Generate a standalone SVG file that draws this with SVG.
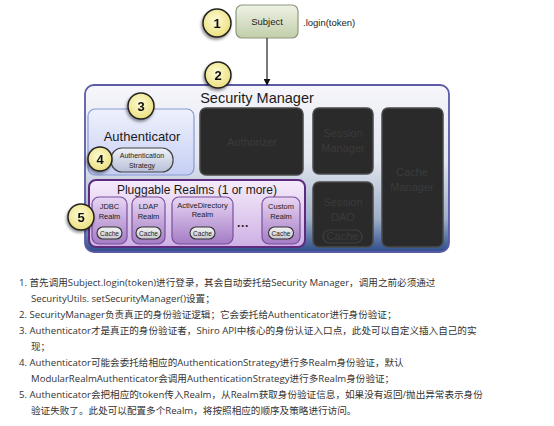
<svg xmlns="http://www.w3.org/2000/svg" width="554" height="426" viewBox="0 0 554 426">
<defs>
  <linearGradient id="gSM" x1="0" y1="0" x2="0" y2="1">
    <stop offset="0" stop-color="#f6f6fb"/>
    <stop offset="0.45" stop-color="#e2e6ef"/>
    <stop offset="0.8" stop-color="#9fb0c8"/>
    <stop offset="1" stop-color="#2d4d8a"/>
  </linearGradient>
  <linearGradient id="gSubj" x1="0" y1="0" x2="0" y2="1">
    <stop offset="0" stop-color="#eef2e4"/>
    <stop offset="1" stop-color="#c2ceaa"/>
  </linearGradient>
  <linearGradient id="gAuth" x1="0" y1="0" x2="0" y2="1">
    <stop offset="0" stop-color="#eef0fc"/>
    <stop offset="1" stop-color="#c6cff4"/>
  </linearGradient>
  <linearGradient id="gStrat" x1="0" y1="0" x2="0" y2="1">
    <stop offset="0" stop-color="#f0f2f8"/>
    <stop offset="1" stop-color="#b8c0d8"/>
  </linearGradient>
  <linearGradient id="gPR" x1="0" y1="0" x2="0" y2="1">
    <stop offset="0" stop-color="#f6ecfb"/>
    <stop offset="1" stop-color="#cdb0e4"/>
  </linearGradient>
  <linearGradient id="gRealm" x1="0" y1="0" x2="0" y2="1">
    <stop offset="0" stop-color="#e8d6f4"/>
    <stop offset="1" stop-color="#a47cc4"/>
  </linearGradient>
  <linearGradient id="gCache" x1="0" y1="0" x2="0" y2="1">
    <stop offset="0" stop-color="#f4f4f4"/>
    <stop offset="1" stop-color="#c8c8d0"/>
  </linearGradient>
  <radialGradient id="gCirc" cx="0.45" cy="0.4" r="0.6">
    <stop offset="0" stop-color="#fdfbd6"/>
    <stop offset="1" stop-color="#ece07e"/>
  </radialGradient>
  <filter id="shadow" x="-30%" y="-30%" width="160%" height="160%">
    <feGaussianBlur in="SourceAlpha" stdDeviation="1.5"/>
    <feOffset dx="-1" dy="2" result="b"/>
    <feComponentTransfer><feFuncA type="linear" slope="0.45"/></feComponentTransfer>
    <feMerge><feMergeNode/><feMergeNode in="SourceGraphic"/></feMerge>
  </filter>
  <marker id="arrow" viewBox="0 0 10 10" refX="9" refY="5" markerWidth="7" markerHeight="7" orient="auto" markerUnits="userSpaceOnUse">
    <path d="M0,0 L10,5 L0,10 z" fill="#111"/>
  </marker>
  <style>
    .sans { font-family: "Liberation Sans", Arial, sans-serif; }
    .circ { fill: url(#gCirc); stroke: #222; stroke-width: 1.5; }
    .num { font-family: "Liberation Sans", Arial, sans-serif; font-size: 13px; font-weight: bold; fill: #111; text-anchor: middle; }
    .dark { fill: #2a2a2a; stroke: #4a4a4a; stroke-width: 1.5; }
    .darkt { font-family: "Liberation Sans", Arial, sans-serif; font-size: 11px; fill: #3b3b3b; text-anchor: middle; }
    .realm { fill: url(#gRealm); stroke: #7a4e9c; stroke-width: 1.2; }
    .realmt { font-family: "Liberation Sans", Arial, sans-serif; font-size: 7.5px; fill: #222; text-anchor: middle; }
    .cache { fill: url(#gCache); stroke: #333; stroke-width: 1.1; }
    .cachet { font-family: "Liberation Sans", Arial, sans-serif; font-size: 6.5px; fill: #222; text-anchor: middle; }
    .note { font-family: "Open Sans", "Noto Sans CJK SC", sans-serif; font-size: 9.6px; fill: #333333; }
  </style>
</defs>

<rect width="554" height="426" fill="#ffffff"/>

<g id="security-manager">
  <rect x="85" y="85" width="364" height="167" rx="9" fill="url(#gSM)" stroke="#5a5aa6" stroke-width="1.8"/>
  <text x="257" y="103" class="sans" font-size="14.5" fill="#1a1a1a" text-anchor="middle">Security Manager</text>
</g>

<g id="subject">
  <rect x="236" y="5" width="62" height="33" rx="6" fill="url(#gSubj)" stroke="#8c9a7c" stroke-width="1.2"/>
  <text x="267" y="25" class="sans" font-size="9.5" fill="#222" text-anchor="middle">Subject</text>
  <text x="303" y="26" class="sans" font-size="9.5" fill="#222">.login(token)</text>
</g>

<g id="connectors">
  <line x1="267" y1="38" x2="267" y2="85" stroke="#222" stroke-width="1.2" marker-end="url(#arrow)"/>
</g>

<g id="authenticator">
  <rect x="88" y="109" width="106" height="66" rx="7" fill="url(#gAuth)" stroke="#8898d8" stroke-width="1.2"/>
  <text x="142" y="141" class="sans" font-size="13" fill="#1a1a1a" text-anchor="middle">Authenticator</text>
</g>

<g id="authentication-strategy">
  <rect x="111" y="148" width="62" height="24" rx="11" fill="url(#gStrat)" stroke="#444" stroke-width="1.2"/>
  <text x="142" y="158" class="sans" font-size="7" fill="#222" text-anchor="middle">Authentication</text>
  <text x="142" y="168" class="sans" font-size="7" fill="#222" text-anchor="middle">Strategy</text>
</g>

<g id="authorizer">
  <rect x="200" y="108" width="103" height="67" rx="6" class="dark"/>
  <text x="252" y="146" class="darkt">Authorizer</text>
</g>

<g id="session-manager">
  <rect x="313" y="108" width="60" height="66" rx="6" class="dark"/>
  <text x="343" y="137" class="darkt">Session</text>
  <text x="343" y="152" class="darkt">Manager</text>
</g>

<g id="cache-manager">
  <rect x="382" y="108" width="61" height="139" rx="6" class="dark"/>
  <text x="412" y="176" class="darkt">Cache</text>
  <text x="412" y="191" class="darkt">Manager</text>
</g>

<g id="session-dao">
  <rect x="313" y="182" width="60" height="65" rx="6" class="dark"/>
  <text x="343" y="206" class="darkt">Session</text>
  <text x="343" y="221" class="darkt">DAO</text>
  <rect x="323" y="230" width="39" height="13" rx="6.5" fill="none" stroke="#3f3f3f" stroke-width="1.2"/>
  <text x="342.5" y="239.5" class="darkt" font-size="8">Cache</text>
</g>

<g id="pluggable-realms">
  <rect x="89" y="180" width="216" height="67" rx="7" fill="url(#gPR)" stroke="#5e2a80" stroke-width="2"/>
  <text x="197" y="194" class="sans" font-size="12" fill="#1a1a1a" text-anchor="middle">Pluggable Realms (1 or more)</text>
</g>

<g id="jdbc-realm">
  <rect x="92" y="197" width="35" height="47" rx="7" class="realm"/>
  <text x="109.5" y="209" class="realmt">JDBC</text>
  <text x="109.5" y="219" class="realmt">Realm</text>
  <rect x="97" y="227" width="25" height="12" rx="6" class="cache"/>
  <text x="109.5" y="235.5" class="cachet">Cache</text>
</g>

<g id="ldap-realm">
  <rect x="132" y="197" width="33" height="47" rx="7" class="realm"/>
  <text x="148.5" y="209" class="realmt">LDAP</text>
  <text x="148.5" y="219" class="realmt">Realm</text>
  <rect x="136" y="227" width="25" height="12" rx="6" class="cache"/>
  <text x="148.5" y="235.5" class="cachet">Cache</text>
</g>

<g id="activedirectory-realm">
  <rect x="172" y="197" width="61" height="47" rx="7" class="realm"/>
  <text x="202.5" y="208" class="realmt" font-size="6.5">ActiveDirectory</text>
  <text x="202.5" y="217" class="realmt" font-size="6.5">Realm</text>
  <rect x="190" y="227" width="25" height="12" rx="6" class="cache"/>
  <text x="202.5" y="235.5" class="cachet">Cache</text>
</g>

<text x="243" y="230" class="sans" font-size="12" font-weight="bold" fill="#222" text-anchor="middle">···</text>

<g id="custom-realm">
  <rect x="262" y="197" width="38" height="47" rx="7" class="realm"/>
  <text x="281" y="209" class="realmt">Custom</text>
  <text x="281" y="219" class="realmt">Realm</text>
  <rect x="268.5" y="227" width="25" height="12" rx="6" class="cache"/>
  <text x="281" y="235.5" class="cachet">Cache</text>
</g>

<g id="badge-1" filter="url(#shadow)">
  <circle cx="217" cy="23" r="14" class="circ"/>
  <text x="217" y="28" class="num">1</text>
</g>
<g id="badge-2" filter="url(#shadow)">
  <circle cx="218" cy="75" r="13" class="circ"/>
  <text x="218" y="80" class="num">2</text>
</g>
<g id="badge-3" filter="url(#shadow)">
  <circle cx="141" cy="106" r="13" class="circ"/>
  <text x="141" y="111" class="num">3</text>
</g>
<g id="badge-4" filter="url(#shadow)">
  <circle cx="100" cy="159" r="12" class="circ"/>
  <text x="100" y="164" class="num">4</text>
</g>
<g id="badge-5" filter="url(#shadow)">
  <circle cx="81" cy="217" r="13" class="circ"/>
  <text x="81" y="222" class="num">5</text>
</g>

<g id="notes">
  <text x="19" y="286" class="note">1. 首先调用Subject.login(token)进行登录，其会自动委托给Security Manager，调用之前必须通过</text>
  <text x="31" y="302" class="note">SecurityUtils. setSecurityManager()设置；</text>
  <text x="19" y="318" class="note">2. SecurityManager负责真正的身份验证逻辑；它会委托给Authenticator进行身份验证；</text>
  <text x="19" y="334" class="note">3. Authenticator才是真正的身份验证者，Shiro API中核心的身份认证入口点，此处可以自定义插入自己的实</text>
  <text x="31" y="350" class="note">现；</text>
  <text x="19" y="366" class="note">4. Authenticator可能会委托给相应的AuthenticationStrategy进行多Realm身份验证，默认</text>
  <text x="31" y="382" class="note">ModularRealmAuthenticator会调用AuthenticationStrategy进行多Realm身份验证；</text>
  <text x="19" y="398" class="note">5. Authenticator会把相应的token传入Realm，从Realm获取身份验证信息，如果没有返回/抛出异常表示身份</text>
  <text x="31" y="414" class="note">验证失败了。此处可以配置多个Realm，将按照相应的顺序及策略进行访问。</text>
</g>
</svg>
